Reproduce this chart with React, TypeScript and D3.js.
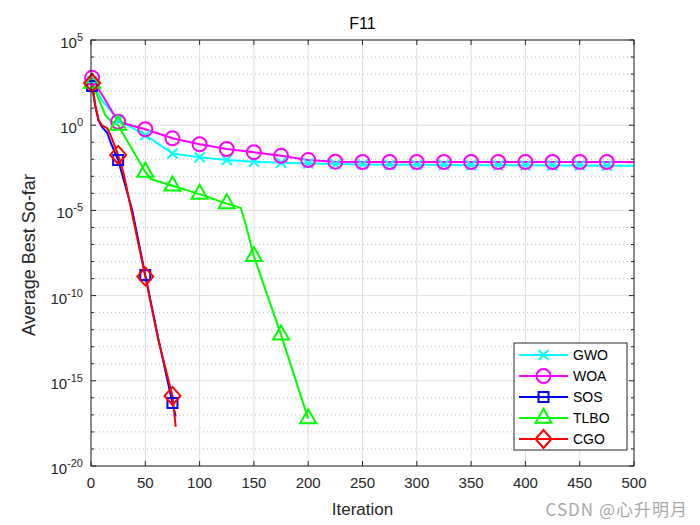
import React from 'react';
import * as d3 from 'd3';

type Pt = [number, number];

// [iteration, average best so-far]
const gwoData: Pt[] = [
  [1, 4e2], [10, 3e1], [25, 2.0], [50, 2.6e-1], [75, 2.2e-2], [100, 1.3e-2], [125, 9e-3],
  [150, 7.2e-3], [175, 6.3e-3], [200, 5.6e-3], [225, 5.2e-3], [250, 5.0e-3], [275, 4.8e-3],
  [300, 4.7e-3], [325, 4.6e-3], [350, 4.5e-3], [375, 4.4e-3], [400, 4.4e-3], [425, 4.3e-3],
  [450, 4.3e-3], [475, 4.2e-3], [500, 4.2e-3],
];
const woaData: Pt[] = [
  [1, 6e2], [25, 1.6], [50, 5.8e-1], [75, 1.7e-1], [100, 7.6e-2], [125, 4e-2], [150, 2.6e-2],
  [175, 1.6e-2], [200, 9e-3], [225, 7.2e-3], [250, 6.9e-3], [275, 6.9e-3], [300, 6.9e-3],
  [325, 6.9e-3], [350, 6.9e-3], [375, 6.9e-3], [400, 6.9e-3], [425, 6.9e-3], [450, 6.9e-3],
  [475, 6.9e-3], [500, 6.9e-3],
];
const sosData: Pt[] = [
  [1, 2e2], [4, 1.2e1], [7, 1.8], [10, 8e-1], [15, 3.5e-1], [18, 1e-1], [25, 9e-3],
  [38, 1e-5], [50, 1.6e-9], [62, 3e-13], [75, 5e-17], [78, 8e-18],
];
const tlboData: Pt[] = [
  [1, 3e2], [8, 2.4e1], [13, 4], [19, 1.6], [25, 1.0], [33, 1.3e-1], [50, 1.8e-3], [55, 7e-4],
  [75, 2.8e-4], [100, 9e-5], [125, 2.5e-5], [138, 1.4e-5], [143, 1.1e-6], [150, 2e-8],
  [175, 5e-13], [200, 6e-18],
];
const cgoData: Pt[] = [
  [1, 3e2], [4, 1.5e1], [7, 2], [10, 1], [15, 6.6e-1], [18, 2.6e-1], [25, 1.8e-2],
  [30, 1.5e-3], [50, 1.3e-9], [62, 2.5e-13], [75, 1.3e-16], [78, 2e-18],
];

const seriesNames = ['GWO', 'WOA', 'SOS', 'TLBO', 'CGO'];
const seriesColors = ['#00ffff', '#ff00ff', '#0000ff', '#00ff00', '#ff0000'];
const seriesMarkers = ['x', 'o', 's', '^', 'd'];
const seriesData = [gwoData, woaData, sosData, tlboData, cgoData];

const markerIters = [1, 25, 50, 75, 100, 125, 150, 175, 200, 225, 250, 275, 300, 325, 350, 375, 400, 425, 450, 475];
const xTicks = [0, 50, 100, 150, 200, 250, 300, 350, 400, 450, 500];
const yMajorExp = [5, 0, -5, -10, -15, -20];

const FONT = '"Liberation Sans", Arial, Helvetica, sans-serif';

function Marker({ kind, cx, cy, color }: { kind: string; cx: number; cy: number; color: string }) {
  const sw = 2;
  if (kind === 'x') {
    const s = 5;
    return (
      <g stroke={color} strokeWidth={sw}>
        <line x1={cx - s} y1={cy - s} x2={cx + s} y2={cy + s} />
        <line x1={cx - s} y1={cy + s} x2={cx + s} y2={cy - s} />
      </g>
    );
  }
  if (kind === 'o') return <circle cx={cx} cy={cy} r={7} fill="none" stroke={color} strokeWidth={sw} />;
  if (kind === 's') return <rect x={cx - 5} y={cy - 5} width={10} height={10} fill="none" stroke={color} strokeWidth={sw} />;
  if (kind === '^') {
    const h = 14, w = 8;
    const p = `M${cx},${cy - (2 * h) / 3} L${cx + w},${cy + h / 3} L${cx - w},${cy + h / 3} Z`;
    return <path d={p} fill="none" stroke={color} strokeWidth={sw} strokeLinejoin="miter" />;
  }
  const p = `M${cx},${cy - 9} L${cx + 8},${cy} L${cx},${cy + 9} L${cx - 8},${cy} Z`;
  return <path d={p} fill="none" stroke={color} strokeWidth={sw} />;
}

export default function App() {
  const W = 700, H = 525;
  const L = 91, R = 634, T = 40, B = 466;
  const x = d3.scaleLinear().domain([0, 500]).range([L, R]);
  const y = d3.scaleLog().domain([1e-20, 1e5]).range([B, T]);
  const line = d3.line<Pt>().x(d => x(d[0])).y(d => y(d[1]));
  const axisColor = '#262626';
  const decades = d3.range(-20, 6);

  const legX = 514, legY = 343, legW = 113, legH = 107;
  const rowY = (i: number) => legY + 12 + i * 21;

  return (
    <svg width={W} height={H} style={{ position: 'absolute', left: 0, top: 0, background: '#fff' }} fontFamily={FONT}>
      <defs>
        <clipPath id="plotclip">
          <rect x={L} y={T} width={R - L} height={B - T} />
        </clipPath>
      </defs>
      <rect x={0} y={0} width={W} height={H} fill="#fff" />
      {/* minor grid */}
      {decades.filter(e => yMajorExp.indexOf(e) < 0).map(e => (
        <line key={'mg' + e} x1={L} x2={R} y1={y(Math.pow(10, e))} y2={y(Math.pow(10, e))}
          stroke="#bdbdbd" strokeWidth={1} strokeDasharray="1,3" />
      ))}
      {/* major grid */}
      {yMajorExp.map(e => (
        <line key={'yg' + e} x1={L} x2={R} y1={y(Math.pow(10, e))} y2={y(Math.pow(10, e))} stroke="#dedede" strokeWidth={1} />
      ))}
      {xTicks.map(t => (
        <line key={'xg' + t} x1={x(t)} x2={x(t)} y1={T} y2={B} stroke="#dedede" strokeWidth={1} />
      ))}
      {/* series */}
      <g clipPath="url(#plotclip)">
        {seriesData.map((data, i) => (
          <path key={'l' + i} d={line(data) || ''} fill="none" stroke={seriesColors[i]} strokeWidth={2} strokeLinejoin="round" />
        ))}
      </g>
      {seriesData.map((data, i) => (
        <g key={'m' + i}>
          {data.filter(d => markerIters.indexOf(d[0]) >= 0).map(d => (
            <Marker key={d[0]} kind={seriesMarkers[i]} cx={x(d[0])} cy={y(d[1])} color={seriesColors[i]} />
          ))}
        </g>
      ))}
      {/* axes box */}
      <rect x={L} y={T} width={R - L} height={B - T} fill="none" stroke={axisColor} strokeWidth={1} />
      {xTicks.map(t => (
        <g key={'xt' + t} stroke={axisColor}>
          <line x1={x(t)} x2={x(t)} y1={B} y2={B - 5} />
          <line x1={x(t)} x2={x(t)} y1={T} y2={T + 5} />
        </g>
      ))}
      {decades.map(e => {
        const len = yMajorExp.indexOf(e) >= 0 ? 5 : 3;
        const yy = y(Math.pow(10, e));
        return (
          <g key={'yt' + e} stroke={axisColor}>
            <line x1={L} x2={L + len} y1={yy} y2={yy} />
            <line x1={R} x2={R - len} y1={yy} y2={yy} />
          </g>
        );
      })}
      {/* tick labels */}
      {xTicks.map(t => (
        <text key={'xl' + t} x={x(t)} y={488} textAnchor="middle" fontSize={15} fill={axisColor}>{t}</text>
      ))}
      {yMajorExp.map(e => (
        <text key={'yl' + e} x={83} y={y(Math.pow(10, e)) + 8} textAnchor="end" fontSize={15} fill={axisColor}>
          10<tspan dy={-7} fontSize={11}>{String(e)}</tspan>
        </text>
      ))}
      {/* labels */}
      <text x={(L + R) / 2} y={29} textAnchor="middle" fontSize={16} fill="#000">F11</text>
      <text x={(L + R) / 2} y={515} textAnchor="middle" fontSize={17} fill={axisColor}>Iteration</text>
      <text transform={`translate(35,${(T + B) / 2 + 2}) rotate(-90)`} textAnchor="middle" fontSize={18} fill={axisColor}>Average Best So-far</text>
      {/* legend */}
      <rect x={legX} y={legY} width={legW} height={legH} fill="#fff" stroke={axisColor} strokeWidth={1} />
      {seriesNames.map((n, i) => (
        <g key={'lg' + n}>
          <line x1={legX + 5} x2={legX + 54} y1={rowY(i)} y2={rowY(i)} stroke={seriesColors[i]} strokeWidth={2} />
          <Marker kind={seriesMarkers[i]} cx={legX + 29.5} cy={rowY(i)} color={seriesColors[i]} />
          <text x={legX + 59} y={rowY(i) + 5} fontSize={14} fill="#000">{n}</text>
        </g>
      ))}
      {/* watermark */}
      <text x={688} y={516} textAnchor="end" fontSize={17} fill="#a8a8a8" letterSpacing={1}
        fontFamily={'"Noto Sans CJK SC", "Liberation Sans", sans-serif'}>CSDN @心升明月</text>
    </svg>
  );
}
